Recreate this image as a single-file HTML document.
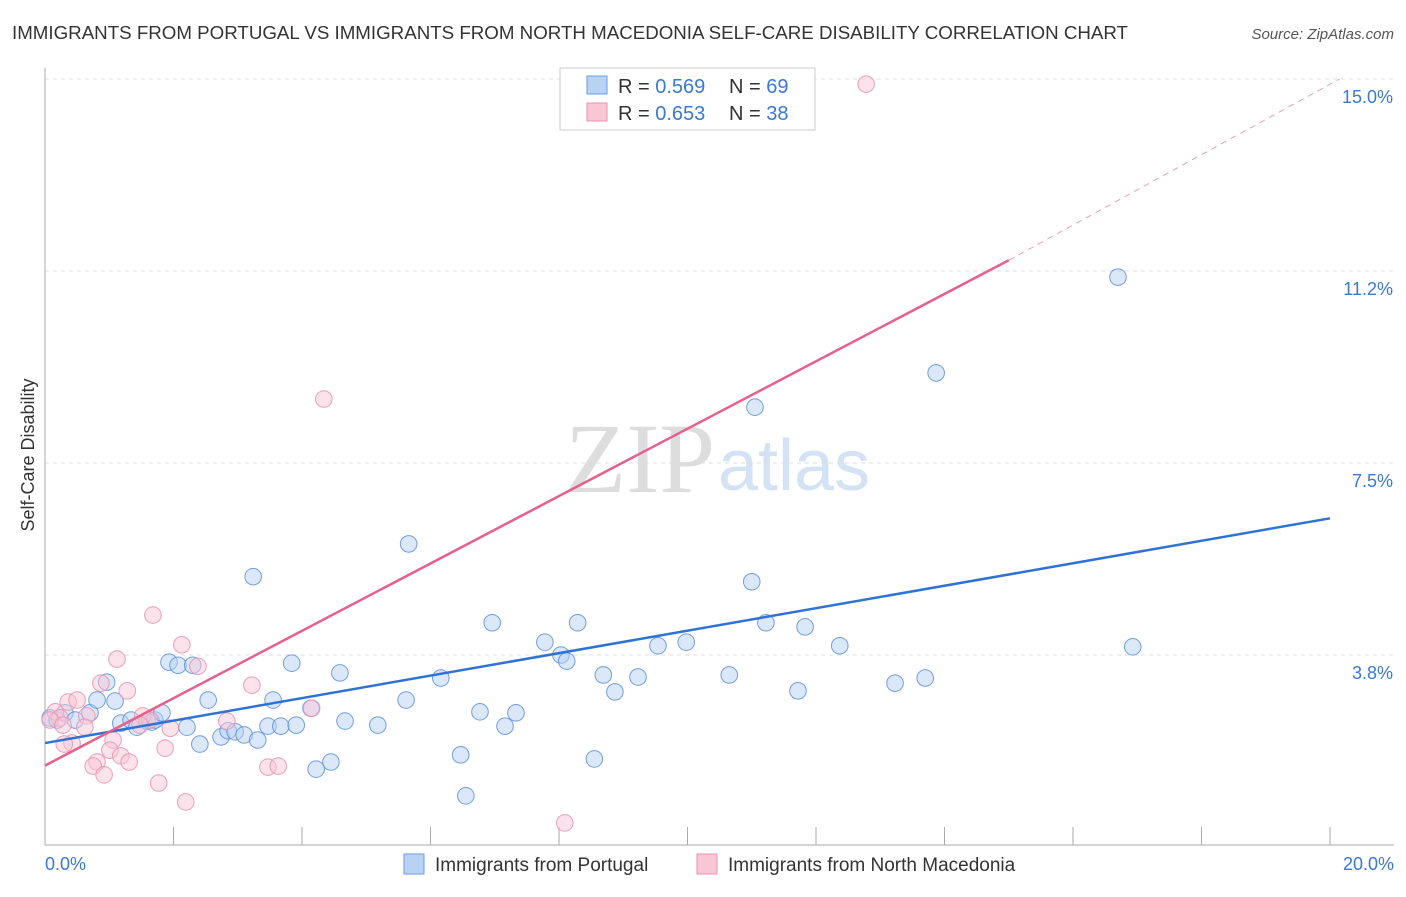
<!DOCTYPE html>
<html><head><meta charset="utf-8"><style>
body{margin:0;background:#fff;font-family:"Liberation Sans",sans-serif;}
</style></head><body>
<svg width="1406" height="892" xmlns="http://www.w3.org/2000/svg">
<text x="12" y="39" font-size="18.5" fill="#333" textLength="1116" lengthAdjust="spacingAndGlyphs">IMMIGRANTS FROM PORTUGAL VS IMMIGRANTS FROM NORTH MACEDONIA SELF-CARE DISABILITY CORRELATION CHART</text>
<text x="1394" y="39" font-size="15" fill="#555" font-style="italic" text-anchor="end">Source: ZipAtlas.com</text>
<text x="715" y="492" font-size="100" fill="#ddd" font-family="Liberation Serif,serif" text-anchor="end">ZIP</text>
<text x="718" y="490" font-size="72" fill="#d3e2f5">atlas</text>
<g id="grid"></g>
<g id="axes"></g>
<g id="marks"></g>
<text transform="translate(34,455) rotate(-90)" font-size="18" fill="#333" text-anchor="middle">Self-Care Disability</text>
<text x="45" y="870" font-size="18" fill="#3a78d4">0.0%</text>
<text x="1394" y="870" font-size="18" fill="#3a78d4" text-anchor="end">20.0%</text>
<g>
<rect x="560" y="68" width="255" height="62" fill="#fff" stroke="#ccc"/>
<rect x="587" y="76" width="20" height="18" fill="#b8d2f3" stroke="#6a9be0"/>
<rect x="587" y="103" width="20" height="18" fill="#f9c6d5" stroke="#e891ad"/>
<text x="618" y="93" font-size="20" fill="#333">R = <tspan fill="#3a78d4">0.569</tspan></text>
<text x="729" y="93" font-size="20" fill="#333">N = <tspan fill="#3a78d4">69</tspan></text>
<text x="618" y="120" font-size="20" fill="#333">R = <tspan fill="#3a78d4">0.653</tspan></text>
<text x="729" y="120" font-size="20" fill="#333">N = <tspan fill="#3a78d4">38</tspan></text>
</g>
<g>
<rect x="404" y="854" width="20" height="20" fill="#b8d2f3" stroke="#6a9be0"/>
<text x="435" y="871" font-size="19" fill="#333">Immigrants from Portugal</text>
<rect x="697" y="854" width="20" height="20" fill="#f9c6d5" stroke="#e891ad"/>
<text x="728" y="871" font-size="19" fill="#333">Immigrants from North Macedonia</text>
</g>
</svg>
<script>
const yTicks=[3.75,7.5,11.25,15];
const yTickLabels=["3.8%","7.5%","11.2%","15.0%"];
const blueX=[0.08,0.19,0.31,0.47,0.7,0.81,0.96,1.09,1.18,1.34,1.43,1.59,1.66,1.71,1.82,1.93,2.07,2.21,2.30,2.41,2.54,2.74,2.85,2.96,3.10,3.31,3.24,3.47,3.55,3.67,3.84,3.91,4.14,4.22,4.45,4.59,4.67,5.18,5.62,5.66,6.16,6.47,6.55,6.77,6.96,7.16,7.33,7.78,8.03,8.12,8.29,8.55,8.69,8.87,9.23,9.54,9.98,10.65,11.0,11.05,11.22,11.72,11.83,12.37,13.23,13.70,13.87,16.70,16.93];
const blueY=[2.52,2.48,2.62,2.48,2.62,2.87,3.22,2.85,2.42,2.48,2.34,2.46,2.44,2.48,2.62,3.61,3.55,2.34,3.55,2.01,2.87,2.15,2.27,2.25,2.19,2.09,5.28,2.36,2.87,2.36,3.59,2.38,2.71,1.52,1.66,3.40,2.46,2.38,2.87,5.92,3.30,1.80,1.00,2.64,4.38,2.36,2.62,4.00,3.75,3.63,4.38,1.72,3.36,3.03,3.32,3.93,4.00,3.36,5.18,8.59,4.38,3.05,4.30,3.93,3.20,3.30,9.26,11.13,3.91];
const pinkX=[12.78,4.34,1.68,2.13,1.12,2.38,0.87,1.28,3.22,0.36,0.50,0.65,0.16,0.23,0.08,1.52,1.63,1.95,2.83,4.15,1.06,0.42,0.30,1.01,1.87,1.18,1.31,0.81,0.75,0.92,3.47,3.63,1.77,2.19,8.09,0.62,0.28,1.48];
const pinkY=[14.90,8.75,4.53,3.95,3.67,3.53,3.20,3.05,3.16,2.83,2.87,2.56,2.64,2.52,2.48,2.56,2.48,2.32,2.46,2.71,2.09,2.03,2.01,1.89,1.93,1.78,1.66,1.66,1.58,1.41,1.56,1.58,1.25,0.88,0.47,2.34,2.38,2.38];
const blueFit=[2.03,6.42], pinkFit=[1.59,11.46,15.0];
const X=v=>45+v/20*1285, Y=v=>847-v*51.2;
const NS="http://www.w3.org/2000/svg";
function mk(t,a,p){const e=document.createElementNS(NS,t);for(const k in a)e.setAttribute(k,a[k]);p.appendChild(e);return e;}
const grid=document.getElementById('grid'),axes=document.getElementById('axes'),marks=document.getElementById('marks');
yTicks.forEach((t,i)=>{
 const l=mk('line',{x1:45,x2:1394,y1:Y(t),y2:Y(t),stroke:'#ddd','stroke-dasharray':'4,4'},grid);
 
 
 const tx=mk('text',{x:1393,y:Y(t)+24,'font-size':18,fill:'#3a78d4','text-anchor':'end'},grid);
 tx.textContent=yTickLabels[i];
 
 
});
mk('line',{x1:45,x2:45,y1:68,y2:845,stroke:'#aaa'},axes);
mk('line',{x1:45,x2:1394,y1:845,y2:845,stroke:'#aaa'},axes);
for(let i=1;i<=10;i++){const t=mk('line',{x1:X(i*2),x2:X(i*2),y1:827,y2:845,stroke:'#aaa'},axes);}
function dot(x,y,c,s,n){const e=mk('circle',{cx:X(x),cy:Y(y),r:8.3,fill:c,'fill-opacity':0.5,stroke:s,'stroke-width':1,'stroke-opacity':0.85},marks);
 
 }
blueX.forEach((x,i)=>dot(x,blueY[i],'#b8d2f3','#5b8fd9','portugal-point'));
pinkX.forEach((x,i)=>dot(x,pinkY[i],'#f9c6d5','#e891ad','macedonia-point'));
const bl=mk('line',{x1:X(0),y1:Y(blueFit[0]),x2:X(20),y2:Y(blueFit[1]),stroke:'#2f72d6','stroke-width':2.5},marks);


const pl=mk('line',{x1:X(0),y1:Y(pinkFit[0]),x2:X(15),y2:Y(pinkFit[1]),stroke:'#e5608a','stroke-width':2.5},marks);


const pd=mk('line',{x1:X(15),y1:Y(pinkFit[1]),x2:X(20.15),y2:Y(pinkFit[2]),stroke:'#e5a0b8','stroke-width':1,'stroke-dasharray':'6,5'},marks);


</script>
</body></html>
